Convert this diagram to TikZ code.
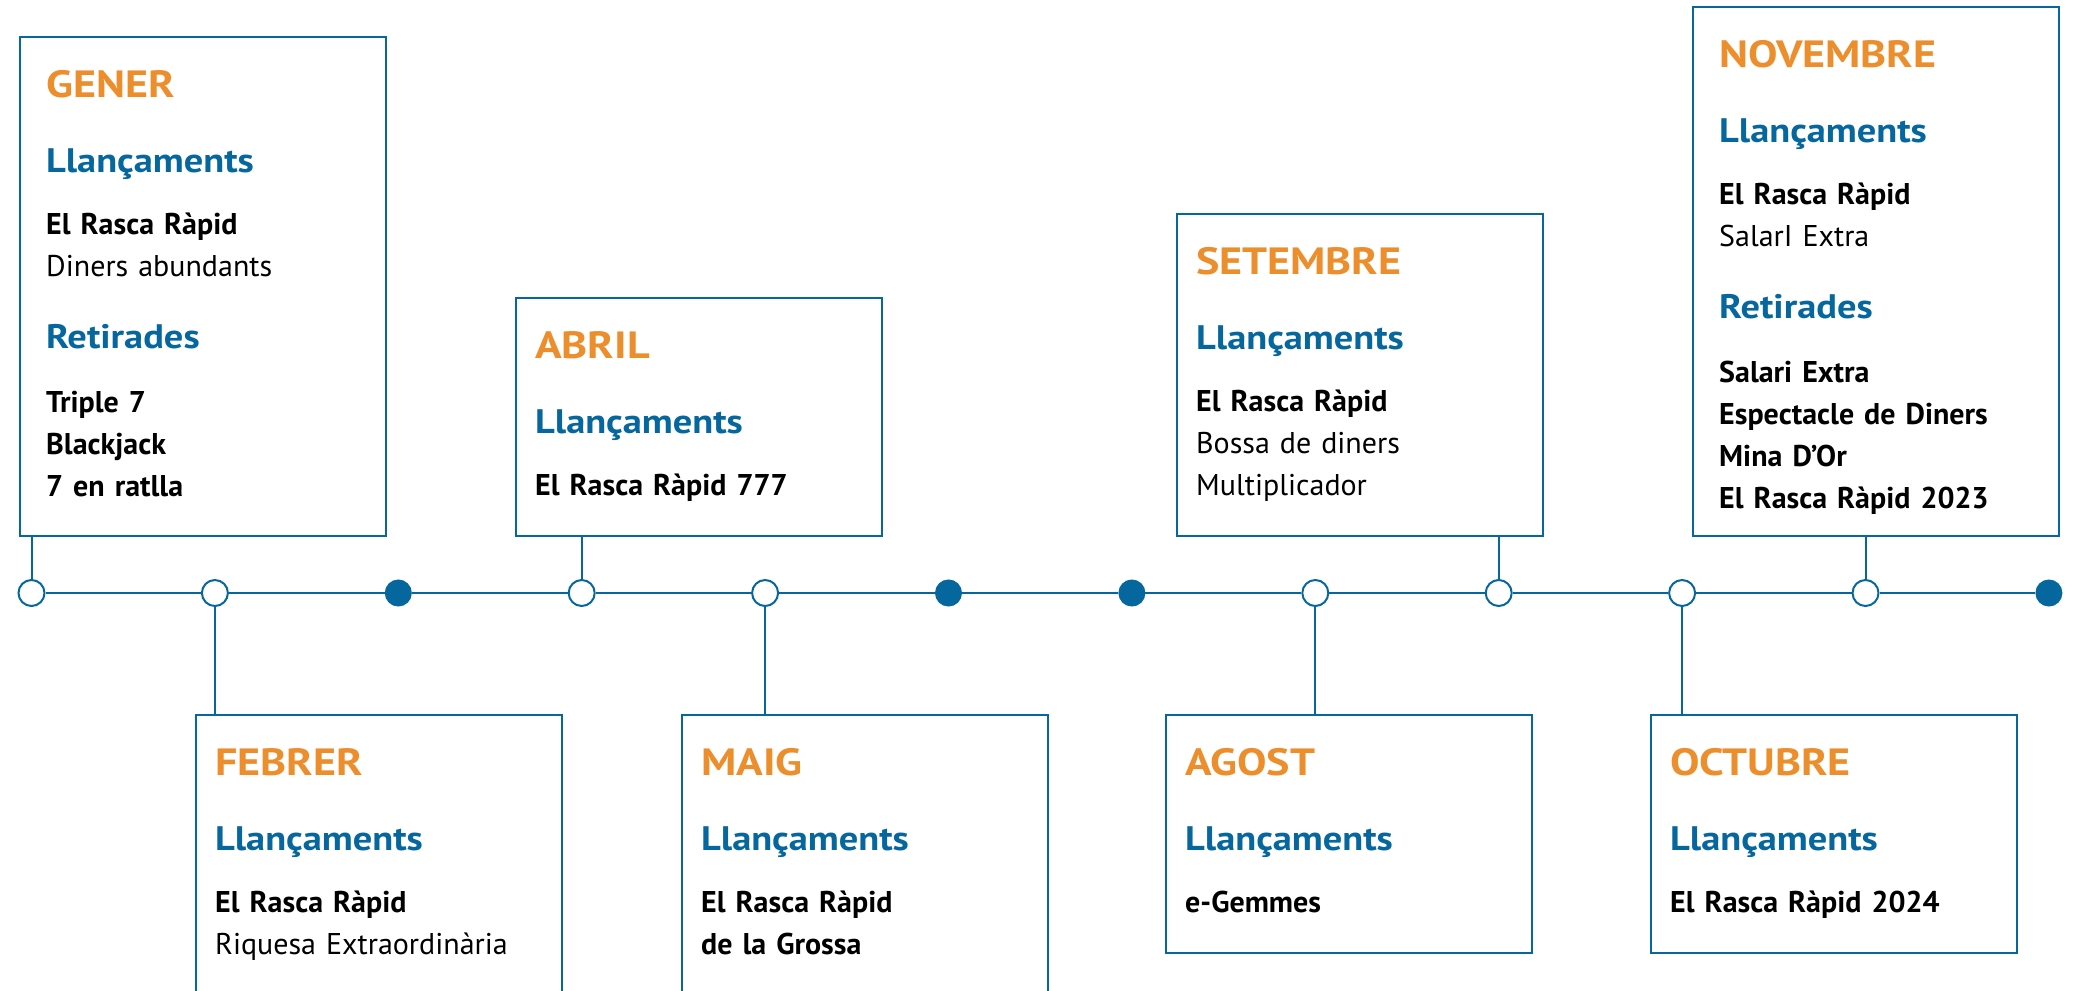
\documentclass[tikz,border=0pt]{standalone}
\usepackage{fontspec}
\setmainfont{PT Sans}
\newfontfamily\mesfont{PT Sans}[FakeStretch=1.16]
\newfontfamily\apartatfont{PT Sans}[FakeStretch=1.13]
\definecolor{tlblue}{RGB}{6,103,158}
\definecolor{tlorange}{RGB}{237,142,45}
\newcommand\mes[1]{{\mesfont\fontsize{38}{42}\selectfont\bfseries\color{tlorange}#1}}
\newcommand\apartat[1]{{\apartatfont\fontsize{34}{42}\selectfont\bfseries\color{tlblue}#1}}
\tikzset{
  dot/.style={draw=tlblue, circle, line width=2pt, fill=white, minimum size=26pt, inner sep=0pt},
  fulldot/.style={dot, fill=tlblue, minimum size=25pt},
  monthbox/.style={draw=tlblue, line width=2.3pt, anchor=north west, minimum width=366pt, inner sep=0pt, outer sep=0pt},
  monthtext/.style={anchor=north west, inner sep=0pt, align=left, text width=340pt, font=\fontsize{30}{42}\selectfont},
  conn/.style={draw=tlblue, line width=2pt},
}
\begin{document}
\begin{tikzpicture}[x=1pt, y=-1pt]
\useasboundingbox (0,0) rectangle (2076,990);
\clip (0,0) rectangle (2076,990);

% one dot per month
\node[dot] (1) at (31.5,593) {};
\node[dot] (2) at (214.9,593) {};
\node[fulldot] (3) at (398.3,593) {};
\node[dot] (4) at (581.7,593) {};
\node[dot] (5) at (765.1,593) {};
\node[fulldot] (6) at (948.5,593) {};
\node[fulldot] (7) at (1131.9,593) {};
\node[dot] (8) at (1315.3,593) {};
\node[dot] (9) at (1498.7,593) {};
\node[dot] (10) at (1682.1,593) {};
\node[dot] (11) at (1865.5,593) {};
\node[fulldot] (12) at (2048.9,593) {};

\path[draw,line width=2.3pt,tlblue] (1) -- (2) -- (3) -- (4) -- (5) -- (6) -- (7) -- (8) -- (9) -- (10) -- (11) -- (12);

% boxes above the line
\node[monthbox, minimum height=499pt] (gener) at (20,37) {};
\node[monthtext] (gener-t) at ([shift={(26,33)}]gener.north west) {\mes{GENER}\\[33pt]
  \apartat{Llançaments}\\[20pt]
  \textbf{El Rasca Ràpid}\\
  Diners abundants\\[30pt]
  \apartat{Retirades}\\[22pt]
  \textbf{Triple 7}\\
  \textbf{Blackjack}\\
  \textbf{7 en ratlla}};

\node[monthbox, minimum height=238pt] (abril) at (516,298) {};
\node[monthtext] (abril-t) at ([shift={(19,33)}]abril.north west) {\mes{ABRIL}\\[33pt]
  \apartat{Llançaments}\\[20pt]
  \textbf{El Rasca Ràpid 777}};

\node[monthbox, minimum height=322pt] (setembre) at (1177,214) {};
\node[monthtext] (setembre-t) at ([shift={(19,33)}]setembre.north west) {\mes{SETEMBRE}\\[33pt]
  \apartat{Llançaments}\\[20pt]
  \textbf{El Rasca Ràpid}\\
  Bossa de diners\\
  Multiplicador};

\node[monthbox, minimum height=529pt] (novembre) at (1693,7) {};
\node[monthtext] (novembre-t) at ([shift={(26,33)}]novembre.north west) {\mes{NOVEMBRE}\\[33pt]
  \apartat{Llançaments}\\[20pt]
  \textbf{El Rasca Ràpid}\\
  SalarI Extra\\[30pt]
  \apartat{Retirades}\\[22pt]
  \textbf{Salari Extra}\\
  \textbf{Espectacle de Diners}\\
  \textbf{Mina D’Or}\\
  \textbf{El Rasca Ràpid 2023}};

% boxes below the line
\node[monthbox, minimum height=320pt] (febrer) at (196,715) {};
\node[monthtext] (febrer-t) at ([shift={(19,33)}]febrer.north west) {\mes{FEBRER}\\[33pt]
  \apartat{Llançaments}\\[20pt]
  \textbf{El Rasca Ràpid}\\
  Riquesa Extraordinària};

\node[monthbox, minimum height=320pt] (maig) at (682,715) {};
\node[monthtext] (maig-t) at ([shift={(19,33)}]maig.north west) {\mes{MAIG}\\[33pt]
  \apartat{Llançaments}\\[20pt]
  \textbf{El Rasca Ràpid}\\
  \textbf{de la Grossa}};

\node[monthbox, minimum height=238pt] (agost) at (1166,715) {};
\node[monthtext] (agost-t) at ([shift={(19,33)}]agost.north west) {\mes{AGOST}\\[33pt]
  \apartat{Llançaments}\\[20pt]
  \textbf{e-Gemmes}};

\node[monthbox, minimum height=238pt] (octubre) at (1651,715) {};
\node[monthtext] (octubre-t) at ([shift={(19,33)}]octubre.north west) {\mes{OCTUBRE}\\[33pt]
  \apartat{Llançaments}\\[20pt]
  \textbf{El Rasca Ràpid 2024}};

% connectors
\path[conn] (1.north) -- (1.north |- gener.south);
\path[conn] (4.north) -- (4.north |- abril.south);
\path[conn] (9.north) -- (9.north |- setembre.south);
\path[conn] (11.north) -- (11.north |- novembre.south);
\path[conn] (2.south) -- (2.south |- febrer.north);
\path[conn] (5.south) -- (5.south |- maig.north);
\path[conn] (8.south) -- (8.south |- agost.north);
\path[conn] (10.south) -- (10.south |- octubre.north);
\end{tikzpicture}
\end{document}
